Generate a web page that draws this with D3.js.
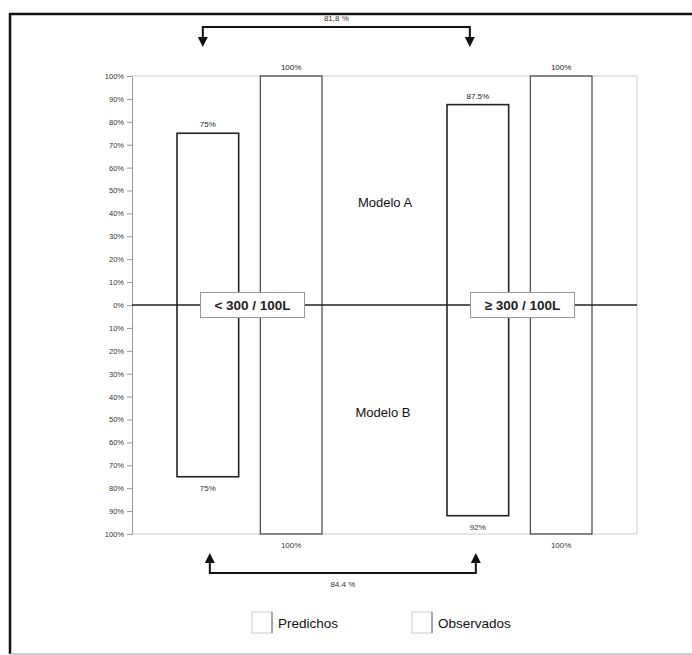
<!DOCTYPE html>
<html><head><meta charset="utf-8">
<script src="https://cdn.jsdelivr.net/npm/d3@7"></script>
<style>body{margin:0;background:#fff}svg{display:block}text{font-family:"Liberation Sans",Arial,sans-serif}</style>
</head><body>
<script>
const categories = ["< 300 / 100L", "\u2265 300 / 100L"];
const series = ["Predichos", "Observados"];
const modeloA = [[75, 100], [87.5, 100]];   // upper half, per category: [Predichos, Observados]
const modeloB = [[75, 100], [92, 100]];     // lower half
const labelsA = [["75%", "100%"], ["87.5%", "100%"]];
const labelsB = [["75%", "100%"], ["92%", "100%"]];
const yTicks = [0,10,20,30,40,50,60,70,80,90,100];
const arrowTop = "81,8 %";
const arrowBottom = "84.4 %";
const modelNames = ["Modelo A", "Modelo B"];

const W = 692, H = 655;
const svg = d3.select("body").append("svg").attr("width", W).attr("height", H);

// frame
svg.append("line").attr("x1",9).attr("x2",700).attr("y1",14).attr("y2",14).attr("stroke","#111").attr("stroke-width",2.5);
svg.append("line").attr("x1",10).attr("x2",10).attr("y1",13).attr("y2",654).attr("stroke","#111").attr("stroke-width",2.5);
svg.append("line").attr("x1",10).attr("x2",700).attr("y1",654).attr("y2",654).attr("stroke","#bbb").attr("stroke-width",1.5);

const y = d3.scaleLinear().domain([-100, 100]).range([534, 76]);
const plotL = 132, plotR = 637;
const x0 = d3.scaleBand().domain(categories).range([114.5, 654.5]);
const x1 = d3.scaleBand().domain(series).range([62.5, 207.5]).paddingInner(0.26);

// gridlines top/bottom
[100, -100].forEach(v => {
  svg.append("line").attr("x1",plotL).attr("x2",plotR).attr("y1",y(v)).attr("y2",y(v)).attr("stroke","#ccc").attr("stroke-width",1);
});
svg.append("line").attr("x1",plotR).attr("x2",plotR).attr("y1",y(100)).attr("y2",y(-100)).attr("stroke","#ccc").attr("stroke-width",1);

// y axis (upper and lower)
const tickVals = yTicks.concat(yTicks.filter(d=>d>0).map(d=>-d));
const yAxis = d3.axisLeft(y).tickValues(tickVals).tickFormat(d => Math.abs(d) + "%").tickSize(5).tickSizeOuter(0);
const ga = svg.append("g").attr("transform", `translate(${plotL},0)`).call(yAxis);
ga.select(".domain").attr("stroke","#999");
ga.selectAll(".tick line").attr("stroke","#999");
ga.selectAll(".tick text").attr("font-size",7.5).attr("fill","#333").attr("x",-8);

// bars
categories.forEach((c, ci) => {
  series.forEach((s, si) => {
    const top = modeloA[ci][si], bot = modeloB[ci][si];
    const bx = x0(c) + x1(s), bw = x1.bandwidth();
    const col = si === 0 ? "#222" : "#444";
    svg.append("rect").attr("x", bx).attr("y", y(top)).attr("width", bw).attr("height", y(-bot) - y(top))
      .attr("fill","none").attr("stroke", col).attr("stroke-width", si === 0 ? 1.6 : 1.2);
    svg.append("text").attr("x", bx + bw/2).attr("y", y(top) - 6).attr("text-anchor","middle")
      .attr("font-size",8).attr("fill","#222").text(labelsA[ci][si]);
    svg.append("text").attr("x", bx + bw/2).attr("y", y(-bot) + 14).attr("text-anchor","middle")
      .attr("font-size",8).attr("fill", "#333").text(labelsB[ci][si]);
  });
});

// zero line
svg.append("line").attr("x1",plotL).attr("x2",plotR).attr("y1",y(0)).attr("y2",y(0)).attr("stroke","#222").attr("stroke-width",1.3);

// category boxes
categories.forEach((c) => {
  const cx = x0(c) + x0.bandwidth()/2 + 3;
  const bw = 104, bh = 25;
  svg.append("rect").attr("x", cx - bw/2).attr("y", y(0) - bh/2).attr("width", bw).attr("height", bh)
    .attr("fill","#fff").attr("stroke","#999").attr("stroke-width",1);
  svg.append("text").attr("x", cx).attr("y", y(0) + 5).attr("text-anchor","middle")
    .attr("font-size",13.5).attr("font-weight","bold").attr("fill","#222").text(c);
});

// model labels
svg.append("text").attr("x",385).attr("y",y(43)).attr("text-anchor","middle").attr("font-size",13).attr("fill","#111").text(modelNames[0]);
svg.append("text").attr("x",383).attr("y",y(-49)).attr("text-anchor","middle").attr("font-size",13).attr("fill","#111").text(modelNames[1]);

// arrows
const pxA = x0(categories[0]) + x1("Predichos") + x1.bandwidth()/2;
const pxB = x0(categories[1]) + x1("Predichos") + x1.bandwidth()/2;
function arrowHead(xc, ytip, dir) { // dir 1 = down, -1 = up
  svg.append("path").attr("d", `M${xc-5},${ytip-10*dir} L${xc+5},${ytip-10*dir} L${xc},${ytip} Z`).attr("fill","#111");
}
// top
const ta = pxA - 5, tb = pxB - 8;
svg.append("path").attr("d", `M${ta},38 V27 H${tb} V38`).attr("fill","none").attr("stroke","#111").attr("stroke-width",2);
arrowHead(ta, 47, 1); arrowHead(tb, 47, 1);
svg.append("text").attr("x",(ta+tb)/2).attr("y",21).attr("text-anchor","middle").attr("font-size",8).attr("fill","#333").text(arrowTop);
// bottom
const ba = pxA + 2, bb = pxB - 2;
svg.append("path").attr("d", `M${ba},562 V573 H${bb} V562`).attr("fill","none").attr("stroke","#111").attr("stroke-width",2);
arrowHead(ba, 553, -1); arrowHead(bb, 553, -1);
svg.append("text").attr("x",(ba+bb)/2).attr("y",587).attr("text-anchor","middle").attr("font-size",8).attr("fill","#333").text(arrowBottom);

// legend
const legX = [252, 412];
series.forEach((s, i) => {
  svg.append("rect").attr("x", legX[i]).attr("y", 612).attr("width", 20).attr("height", 21).attr("fill","#fff").attr("stroke","#ccc").attr("stroke-width",1);
  svg.append("line").attr("x1", legX[i]+20).attr("x2", legX[i]+20).attr("y1",612).attr("y2",633).attr("stroke","#666").attr("stroke-width",1);
  svg.append("text").attr("x", legX[i] + 26).attr("y", 628).attr("font-size",13.5).attr("fill","#111").text(s);
});
</script>
</body></html>
